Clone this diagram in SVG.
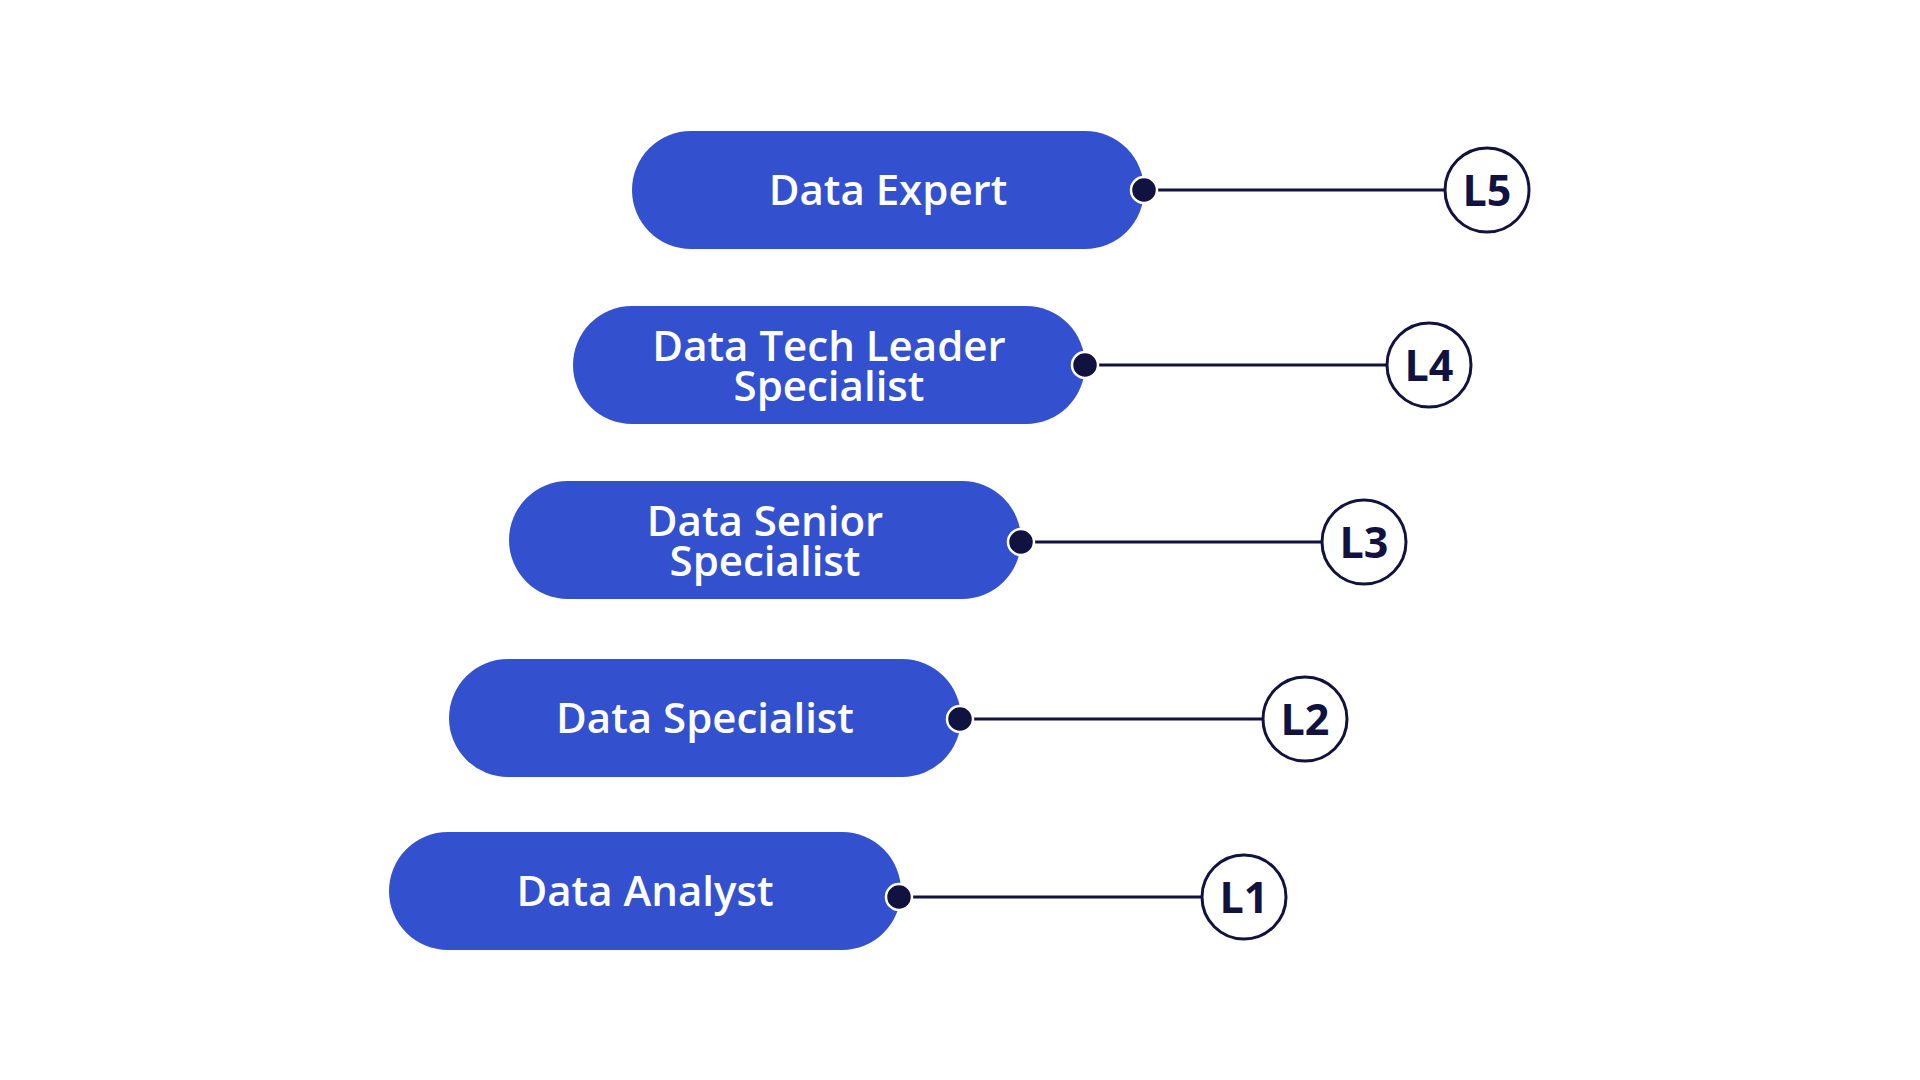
<svg xmlns="http://www.w3.org/2000/svg" width="1920" height="1080" viewBox="0 0 1920 1080">
  <style>
    .pill { fill: #3351CE; }
    .ptxt { font-family: "Open Sans", "Noto Sans", sans-serif; font-weight: 600; font-size: 42px; fill: #FFFFFF; text-anchor: middle; }
    .dot { fill: #11123F; stroke: #FFFFFF; stroke-width: 2.5; }
    .conn { stroke: #11123F; stroke-width: 3; fill: none; }
    .lvl { fill: #FFFFFF; stroke: #11123F; stroke-width: 3; }
    .ltxt { font-family: "Open Sans", "Noto Sans", sans-serif; font-weight: 700; font-size: 43px; fill: #11123F; text-anchor: middle; }
  </style>
  <rect width="1920" height="1080" fill="#FFFFFF"/>

  <g id="connectors">
    <line class="conn" x1="1144" y1="190" x2="1445" y2="190"/>
    <line class="conn" x1="1085" y1="365" x2="1387" y2="365"/>
    <line class="conn" x1="1021" y1="542" x2="1322" y2="542"/>
    <line class="conn" x1="960" y1="719" x2="1263" y2="719"/>
    <line class="conn" x1="899" y1="897" x2="1202" y2="897"/>
  </g>

  <g id="node-data-expert">
    <rect class="pill" x="632" y="131" width="512" height="118" rx="59" ry="59"/>
    <text class="ptxt" x="888" y="205">Data Expert</text>
    <circle class="dot" cx="1144" cy="190" r="13"/>
  </g>
  <g id="node-l5">
    <circle class="lvl" cx="1487" cy="190" r="42"/>
    <text class="ltxt" x="1487" y="205.5">L5</text>
  </g>

  <g id="node-data-tech-leader-specialist">
    <rect class="pill" x="573" y="306" width="512" height="118" rx="59" ry="59"/>
    <text class="ptxt" x="829" y="361"><tspan x="829" y="361">Data Tech Leader</tspan><tspan x="829" y="401">Specialist</tspan></text>
    <circle class="dot" cx="1085" cy="365" r="13"/>
  </g>
  <g id="node-l4">
    <circle class="lvl" cx="1429" cy="365" r="42"/>
    <text class="ltxt" x="1429" y="380.5">L4</text>
  </g>

  <g id="node-data-senior-specialist">
    <rect class="pill" x="509" y="481" width="512" height="118" rx="59" ry="59"/>
    <text class="ptxt" x="765" y="536"><tspan x="765" y="536">Data Senior</tspan><tspan x="765" y="576">Specialist</tspan></text>
    <circle class="dot" cx="1021" cy="542" r="13"/>
  </g>
  <g id="node-l3">
    <circle class="lvl" cx="1364" cy="542" r="42"/>
    <text class="ltxt" x="1364" y="557.5">L3</text>
  </g>

  <g id="node-data-specialist">
    <rect class="pill" x="449" y="659" width="512" height="118" rx="59" ry="59"/>
    <text class="ptxt" x="705" y="733">Data Specialist</text>
    <circle class="dot" cx="960" cy="719" r="13"/>
  </g>
  <g id="node-l2">
    <circle class="lvl" cx="1305" cy="719" r="42"/>
    <text class="ltxt" x="1305" y="734.5">L2</text>
  </g>

  <g id="node-data-analyst">
    <rect class="pill" x="389" y="832" width="512" height="118" rx="59" ry="59"/>
    <text class="ptxt" x="645" y="906">Data Analyst</text>
    <circle class="dot" cx="899" cy="897" r="13"/>
  </g>
  <g id="node-l1">
    <circle class="lvl" cx="1244" cy="897" r="42"/>
    <text class="ltxt" x="1244" y="912.5">L1</text>
  </g>
</svg>
